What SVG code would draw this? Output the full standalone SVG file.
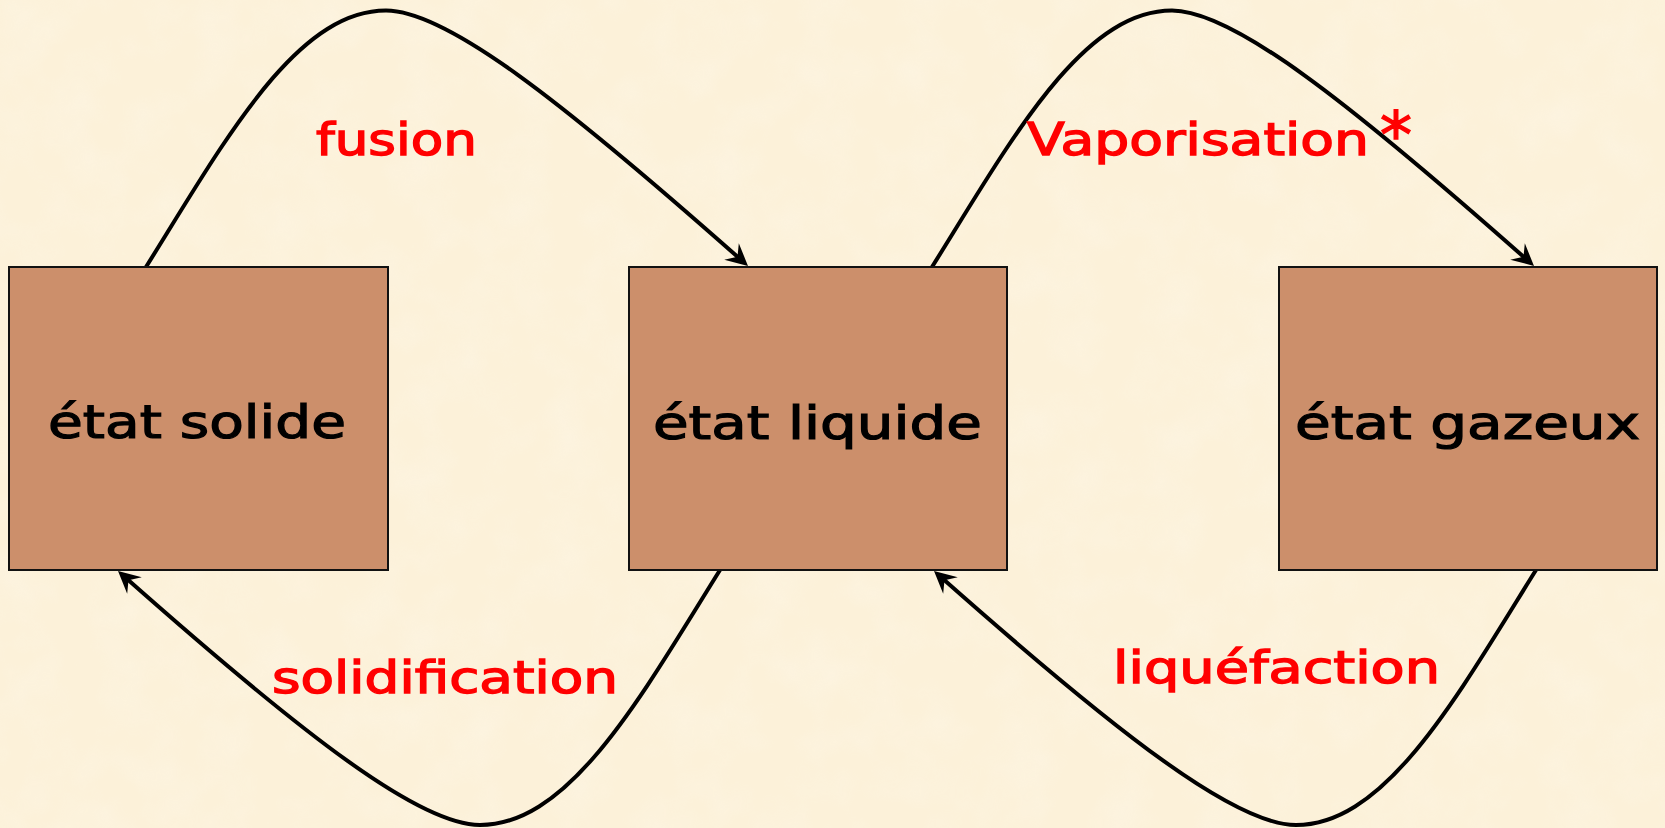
<svg xmlns="http://www.w3.org/2000/svg" width="1665" height="828" viewBox="0 0 1665 828">
<style>
.bg{fill:#fcf1d9}
.box{fill:#cc8f6b;stroke:#111;stroke-width:2}
.lbl{font-family:"DejaVu Sans","Liberation Sans",sans-serif;font-size:46px;fill:#000;stroke:#000;stroke-width:1.2}
.edge{fill:none;stroke:#000;stroke-width:4;marker-end:url(#arr)}
.elbl{font-family:"DejaVu Sans","Liberation Sans",sans-serif;font-size:44px;fill:#ff0000;stroke:#ff0000;stroke-width:1.4}
</style>
<defs>
<marker id="arr" viewBox="-24 -13 26 26" refX="-8" refY="0" markerWidth="26" markerHeight="26" markerUnits="userSpaceOnUse" orient="auto">
<path d="M0,0 L-22,-11 L-14,0 L-22,11 Z" fill="#000"/>
</marker>
<filter id="tex" x="0" y="0" width="100%" height="100%">
<feTurbulence type="fractalNoise" baseFrequency="0.02" numOctaves="3" seed="4"/>
<feColorMatrix type="matrix" values="0 0 0 0 1  0 0 0 0 1  0 0 0 0 1  0 0 0 -0.9 0.55"/>
</filter>
</defs>
<rect class="bg" x="0" y="0" width="1665" height="828"/>
<rect x="0" y="0" width="1665" height="828" filter="url(#tex)" opacity="0.35"/>
<g id="connectors">
<g id="e-fusion">
<path class="edge" d="M146,267 C225.5,139.5 296,10.5 386,10.5 C446,10.5 560.5,100 742,260.7"/>
<text class="elbl" x="316" y="155" textLength="161" lengthAdjust="spacingAndGlyphs">fusion</text>
</g>
<g id="e-vaporisation">
<path class="edge" d="M932,267 C1011.5,139.5 1082,10.5 1172,10.5 C1232,10.5 1346.5,100 1528,260.7"/>
<text class="elbl" x="1027" y="155"><tspan textLength="342" lengthAdjust="spacingAndGlyphs">Vaporisation</tspan><tspan x="1380" y="157" font-size="64">*</tspan></text>
</g>
<g id="e-solidification">
<path class="edge" d="M720,570 C640.5,697.5 570,825 480,825 C420,825 305.5,737 124,576.3"/>
<text class="elbl" x="272" y="693" textLength="346" lengthAdjust="spacingAndGlyphs">solidification</text>
</g>
<g id="e-liquefaction">
<path class="edge" d="M1536,570 C1456.5,697.5 1386,825 1296,825 C1236,825 1121.5,737 940,576.3"/>
<text class="elbl" x="1113" y="683" textLength="327" lengthAdjust="spacingAndGlyphs">liquéfaction</text>
</g>
</g>
<g id="solide">
<rect class="box" x="9" y="267" width="379" height="303"/>
<text class="lbl" x="48" y="438" textLength="298" lengthAdjust="spacingAndGlyphs">état solide</text>
</g>
<g id="liquide">
<rect class="box" x="629" y="267" width="378" height="303"/>
<text class="lbl" x="653" y="439" textLength="329" lengthAdjust="spacingAndGlyphs">état liquide</text>
</g>
<g id="gazeux">
<rect class="box" x="1279" y="267" width="378" height="303"/>
<text class="lbl" x="1295" y="439" textLength="345" lengthAdjust="spacingAndGlyphs">état gazeux</text>
</g>
</svg>
